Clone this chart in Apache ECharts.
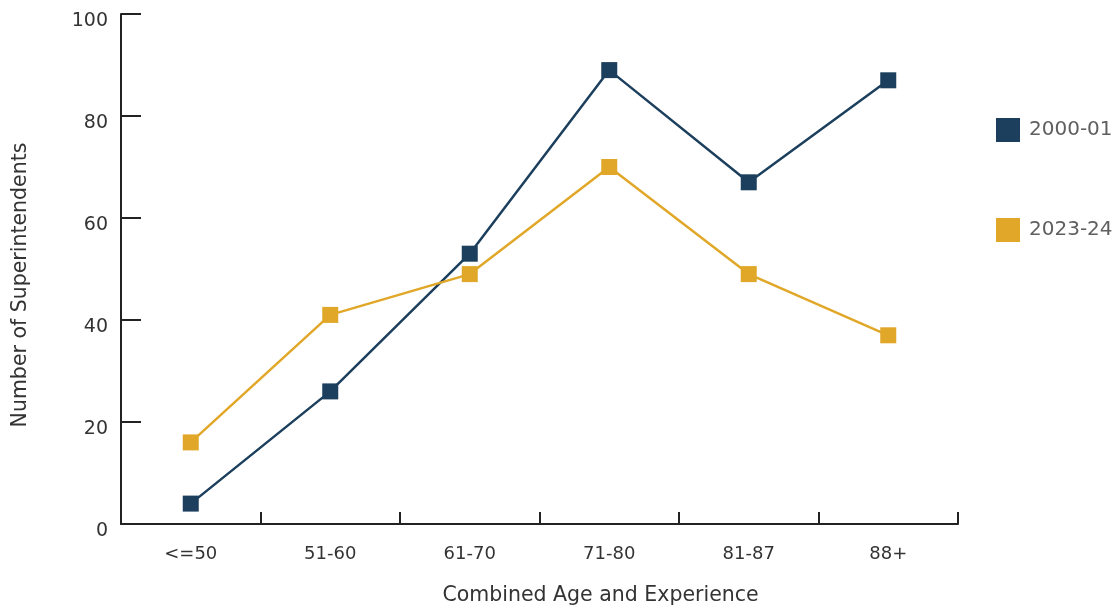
<!DOCTYPE html>
<html><head><meta charset="utf-8">
<script src="https://cdn.jsdelivr.net/npm/echarts@6/dist/echarts.min.js"></script>
<style>html,body{margin:0;padding:0;background:#fff}#c{width:1115px;height:608px}</style>
</head><body><div id="c"></div>
<script>
const categories = ['<=50', '51-60', '61-70', '71-80', '81-87', '88+'];
const s2000 = [4, 26, 53, 89, 67, 87];
const s2023 = [16, 41, 49, 70, 49, 37];
const yTicks = [0, 20, 40, 60, 80, 100];

const FONT = 'DejaVu Sans';
const chart = echarts.init(document.getElementById('c'), null, {renderer: 'canvas'});
chart.setOption({
  animation: false,
  textStyle: {fontFamily: FONT},
  grid: {left: 121, right: 157, top: 14, bottom: 84, containLabel: false, outerBoundsMode: 'none'},
  legend: {
    orient: 'vertical', left: 991, top: 113, itemWidth: 24, itemHeight: 24, itemGap: 76,
    icon: 'rect',
    textStyle: {fontFamily: FONT, fontSize: 20, color: '#5f5f5f', padding: [0, 0, 0, 4]},
    data: ['2000-01', '2023-24']
  },
  xAxis: {
    type: 'category', data: categories, boundaryGap: true,
    name: 'Combined Age and Experience', nameLocation: 'middle', nameGap: 61,
    nameTextStyle: {fontFamily: FONT, fontSize: 20.5, color: '#333', padding: [0, 0, 0, 122]},
    axisLine: {show: true, lineStyle: {color: '#222', width: 2}},
    axisTick: {show: true, inside: true, length: 12, alignWithLabel: false, lineStyle: {color: '#222', width: 2}},
    axisLabel: {fontFamily: FONT, fontSize: 18, color: '#333', margin: 21}
  },
  yAxis: {
    type: 'value', min: 0, max: 100, interval: 20,
    name: 'Number of Superintendents', nameLocation: 'middle', nameGap: 90,
    nameTextStyle: {fontFamily: FONT, fontSize: 20.5, color: '#333', padding: [0, 32, 0, 0]},
    axisLine: {show: true, lineStyle: {color: '#222', width: 2}},
    axisTick: {show: true, inside: true, length: 20, lineStyle: {color: '#222', width: 2}},
    axisLabel: {fontFamily: FONT, fontSize: 19, color: '#333', margin: 13, lineHeight: 14,
      formatter: v => yTicks.includes(v) ? '\n' + v : ''},
    splitLine: {show: false}
  },
  series: [
    {name: '2000-01', type: 'line', data: s2000, symbol: 'rect', symbolSize: 16,
     color: '#1b3f5c', lineStyle: {width: 2.5, color: '#1b3f5c'}, itemStyle: {color: '#1b3f5c'}},
    {name: '2023-24', type: 'line', data: s2023, symbol: 'rect', symbolSize: 16,
     color: '#e1a729', lineStyle: {width: 2.5, color: '#e1a729'}, itemStyle: {color: '#e1a729'}}
  ]
});
</script></body></html>
